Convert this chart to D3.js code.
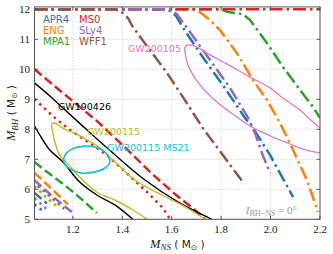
<!DOCTYPE html>
<html lang="en">
<head>
<meta charset="UTF-8">
<title>BH-NS disruption limits</title>
<script src="https://d3js.org/d3.v7.min.js"></script>
<style>
  body { margin: 0; background: #fff; }
  svg { display: block; }
</style>
</head>
<body>
<svg width="333" height="254"></svg>
<script>
// EOS names and colours (legend order)
var eosNames = ["APR4", "ENG", "MPA1", "MS0", "SLy4", "WFF1"];
var eosColors = ["#1f77b4", "#ff7f0e", "#2ca02c", "#d62728", "#9467bd", "#8c564b"];

// dash-dot curves  [M_NS, M_BH]
var apr4DashDot = [[1.045,12],[1.585,12],[1.617,11.78],[1.657,11.24],[1.734,10.31],[1.815,9.38],[1.896,8.38],[1.929,8.04],[1.998,7.14],[2.091,5.74]];
var engDashDot = [[1.045,12],[1.686,12],[1.714,11.91],[1.755,11.64],[1.795,11.31],[1.864,10.54],[1.929,9.64],[1.985,8.98],[2.038,8.21],[2.091,7.31],[2.147,6.31],[2.192,5.24]];
var mpa1DashDot = [[1.045,12],[1.795,12],[1.828,11.91],[1.888,11.84],[1.917,11.64],[1.985,10.88],[2.05,10.08],[2.119,9.31],[2.172,8.74],[2.2,8.38]];
var ms0DashDot = [[1.045,12],[2.2,12]];
var sly4DashDot = [[1.045,12],[1.593,12],[1.621,11.84],[1.674,11.24],[1.755,10.31],[1.836,9.38],[1.909,8.38],[1.937,7.88],[1.965,7.21],[1.998,6.54]];
var wff1DashDot = [[1.045,12],[1.37,12],[1.398,11.91],[1.423,11.71],[1.443,11.41],[1.512,10.64],[1.581,9.88],[1.645,9.08],[1.726,8.04],[1.807,7.14],[1.888,6.24]];

// dashed curves
var apr4Dashed = [[1.045,5.88],[1.095,5.53]];
var engDashed = [[1.045,6.55],[1.11,6.05],[1.18,5.5]];
var mpa1Dashed = [[1.045,6.91],[1.107,6.51],[1.176,6.08],[1.24,5.64],[1.297,5.21]];
var ms0Dashed = [[1.045,10.0],[1.16,9.21],[1.297,8.28],[1.41,7.41],[1.512,6.58],[1.613,5.84],[1.694,5.31],[1.734,5.01]];
var sly4Dashed = [[1.045,6.3],[1.12,5.75],[1.196,5.24]];

// dotted curves
var apr4Dotted = [[1.045,5.5],[1.075,5.3]];
var engDotted = [[1.045,6.1],[1.09,5.75],[1.14,5.4]];
var mpa1Dotted = [[1.058,6.11],[1.11,5.75],[1.165,5.35]];
var ms0Dotted = [[1.045,9.01],[1.119,8.44],[1.188,7.98],[1.269,7.54],[1.338,7.14],[1.431,6.44],[1.504,5.88],[1.564,5.38],[1.593,5.01]];
var sly4Dotted = [[1.045,5.7],[1.1,5.3]];

// GW event contours
var gw190426Upper = [[1.046,9.54],[1.107,9.11],[1.16,8.71],[1.249,8.04],[1.362,7.21],[1.492,6.31],[1.625,5.58],[1.763,5.0]];
var gw190426Lower = [[1.045,8.11],[1.074,7.71],[1.107,7.31],[1.16,6.91],[1.228,6.24],[1.297,5.81],[1.37,5.48],[1.443,5.0]];
var gw200115 = [[1.734,5.01],[1.641,5.48],[1.56,5.81],[1.451,6.31],[1.362,6.98],[1.309,7.38],[1.228,7.78],[1.16,8.04],[1.127,8.21],[1.115,8.18],[1.119,7.88],[1.131,7.48],[1.147,7.14],[1.176,6.88],[1.24,6.31],[1.297,5.91],[1.378,5.61],[1.443,5.31],[1.50,5.01]];
var gw200115ms21 = [[1.35,6.91],[1.33,7.24],[1.289,7.41],[1.249,7.44],[1.196,7.34],[1.168,7.14],[1.164,6.91],[1.188,6.68],[1.236,6.54],[1.289,6.58],[1.33,6.71]];
var gw200105 = [[2.2,8.04],[2.172,8.24],[2.119,8.64],[2.05,9.04],[1.998,9.38],[1.917,9.74],[1.823,10.18],[1.742,10.54],[1.702,10.74],[1.666,10.81],[1.654,10.74],[1.654,10.58],[1.666,10.14],[1.714,9.48],[1.783,8.91],[1.864,8.41],[1.917,8.11],[1.957,7.94],[2.018,7.71],[2.079,7.51],[2.131,7.34],[2.2,7.21]];

// ticks
var xTicks = [1.2, 1.4, 1.6, 1.8, 2.0, 2.2];
var xTickLabels = ["1.2", "1.4", "1.6", "1.8", "2.0", "2.2"];
var yTicks = [5, 6, 7, 8, 9, 10, 11, 12];

var svg = d3.select("svg"),
    margin = { top: 6.9, right: 13, bottom: 34.7, left: 34.5 },
    width = +svg.attr("width") - margin.left - margin.right,
    height = +svg.attr("height") - margin.top - margin.bottom;

var x = d3.scaleLinear().domain([1.045, 2.2]).range([0, width]);
var y = d3.scaleLinear().domain([5, 12.08]).range([height, 0]);

var g = svg.append("g").attr("transform", "translate(" + margin.left + "," + margin.top + ")");

svg.append("defs").append("clipPath").attr("id", "plotclip")
    .append("rect").attr("width", width).attr("height", height);

// grid
var grid = g.append("g");
grid.selectAll(".gx").data(xTicks).enter().append("line")
    .attr("x1", d => x(d)).attr("x2", d => x(d)).attr("y1", 0).attr("y2", height)
    .attr("stroke", "#c8c8c8").attr("stroke-width", 0.8).attr("stroke-dasharray", "1.2,1.6");
grid.selectAll(".gy").data(yTicks).enter().append("line")
    .attr("x1", 0).attr("x2", width).attr("y1", d => y(d)).attr("y2", d => y(d))
    .attr("stroke", "#c8c8c8").attr("stroke-width", 0.8).attr("stroke-dasharray", "1.2,1.6");

var plot = g.append("g").attr("clip-path", "url(#plotclip)");
var line = d3.line().x(d => x(d[0])).y(d => y(d[1]));
var smooth = d3.line().x(d => x(d[0])).y(d => y(d[1])).curve(d3.curveCatmullRom);
var smoothClosed = d3.line().x(d => x(d[0])).y(d => y(d[1])).curve(d3.curveCatmullRomClosed);

var DASHDOT = "13,4,2.5,4", DASHED = "9.25,4", DOTTED = "2.5,4.1";

function curve(pts, color, dash) {
    plot.append("path").attr("d", line(pts))
        .attr("fill", "none").attr("stroke", color).attr("stroke-width", 2.5)
        .attr("stroke-dasharray", dash);
}

// EOS curves in legend order (later ones on top)
var eosCurves = [
    [apr4Dotted, apr4Dashed, apr4DashDot],
    [engDotted, engDashed, engDashDot],
    [mpa1Dotted, mpa1Dashed, mpa1DashDot],
    [ms0Dotted, ms0Dashed, ms0DashDot],
    [sly4Dotted, sly4Dashed, sly4DashDot],
    [null, null, wff1DashDot]
];
eosCurves.forEach(function(c, i) {
    if (c[0]) curve(c[0], eosColors[i], DOTTED);
    if (c[1]) curve(c[1], eosColors[i], DASHED);
    curve(c[2], eosColors[i], DASHDOT);
});

// contours
function contour(pts, color, w, gen) {
    plot.append("path").attr("d", gen(pts))
        .attr("fill", "none").attr("stroke", color).attr("stroke-width", w);
}
contour(gw190426Upper, "#000000", 1.4, smooth);
contour(gw190426Lower, "#000000", 1.4, smooth);
contour(gw200115, "#bcbd22", 1.4, smooth);
contour(gw200115ms21, "#17becf", 1.6, smoothClosed);
contour(gw200105, "#e377c2", 1.3, smooth);

// contour labels
var labels = [
    { t: "GW190426", c: "#000000", x: 1.14, y: 8.65 },
    { t: "GW200115", c: "#bcbd22", x: 1.258, y: 7.81 },
    { t: "GW200115 MS21", c: "#17becf", x: 1.339, y: 7.28 },
    { t: "GW200105", c: "#e377c2", x: 1.423, y: 10.57 }
];
g.selectAll(".lbl").data(labels).enter().append("text")
    .attr("x", d => x(d.x)).attr("y", d => y(d.y))
    .attr("fill", d => d.c)
    .style("font-family", "DejaVu Sans").style("font-size", "9.5px")
    .text(d => d.t);

// legend
var leg = g.append("g");
eosNames.forEach(function(n, i) {
    var col = Math.floor(i / 3), row = i % 3;
    leg.append("text")
        .attr("x", 8.5 + col * 36).attr("y", 16 + row * 11)
        .attr("fill", eosColors[i])
        .style("font-family", "DejaVu Sans").style("font-size", "10px")
        .text(n);
});

// annotation
var ann = g.append("text")
    .attr("x", x(1.9)).attr("y", y(5.18))
    .attr("fill", "#999999")
    .style("font-family", "Liberation Serif").style("font-size", "11px");
ann.append("tspan").style("font-style", "italic").text("I");
ann.append("tspan").attr("dy", 2.5).style("font-size", "8px").text("BH\u2212NS");
ann.append("tspan").attr("dy", -2.5).text(" = 0\u00b0");

// frame and ticks
g.append("rect").attr("width", width).attr("height", height)
    .attr("fill", "none").attr("stroke", "#555").attr("stroke-width", 1);
var tl = 3.5;
xTicks.forEach(function(t) {
    g.append("line").attr("x1", x(t)).attr("x2", x(t)).attr("y1", height).attr("y2", height - tl).attr("stroke", "#555");
    g.append("line").attr("x1", x(t)).attr("x2", x(t)).attr("y1", 0).attr("y2", tl).attr("stroke", "#555");
});
yTicks.forEach(function(t) {
    g.append("line").attr("x1", 0).attr("x2", tl).attr("y1", y(t)).attr("y2", y(t)).attr("stroke", "#555");
    g.append("line").attr("x1", width).attr("x2", width - tl).attr("y1", y(t)).attr("y2", y(t)).attr("stroke", "#555");
});

// tick labels
g.selectAll(".xtl").data(xTicks).enter().append("text")
    .attr("x", d => x(d)).attr("y", height + 14)
    .attr("text-anchor", "middle")
    .style("font-family", "Liberation Serif").style("font-size", "11px").attr("fill", "#222")
    .text((d, i) => xTickLabels[i]);
g.selectAll(".ytl").data(yTicks).enter().append("text")
    .attr("x", -4.5).attr("y", d => y(d) + 3.8)
    .attr("text-anchor", "end")
    .style("font-family", "Liberation Serif").style("font-size", "11px").attr("fill", "#222")
    .text(d => d);

// axis labels
function axisLabel(sel, sub) {
    sel.append("tspan").style("font-family", "Liberation Serif").style("font-style", "italic").style("font-size", "12.5px").text("M");
    sel.append("tspan").attr("dy", 2.5).style("font-family", "Liberation Serif").style("font-style", "italic").style("font-size", "9px").text(sub);
    sel.append("tspan").attr("dy", -2.5).text(" ( M");
    sel.append("tspan").attr("dy", 2).style("font-size", "7.5px").text("\u2299");
    sel.append("tspan").attr("dy", -2).text(" )");
}
var xl = g.append("text").attr("x", width / 2).attr("y", height + 28.5)
    .attr("text-anchor", "middle").attr("fill", "#222")
    .style("font-family", "DejaVu Sans").style("font-size", "10.5px");
axisLabel(xl, "NS");
var yl = svg.append("text")
    .attr("transform", "translate(15," + (margin.top + height / 2) + ") rotate(-90)")
    .attr("text-anchor", "middle").attr("fill", "#222")
    .style("font-family", "DejaVu Sans").style("font-size", "10.5px");
axisLabel(yl, "BH");
</script>
</body>
</html>
